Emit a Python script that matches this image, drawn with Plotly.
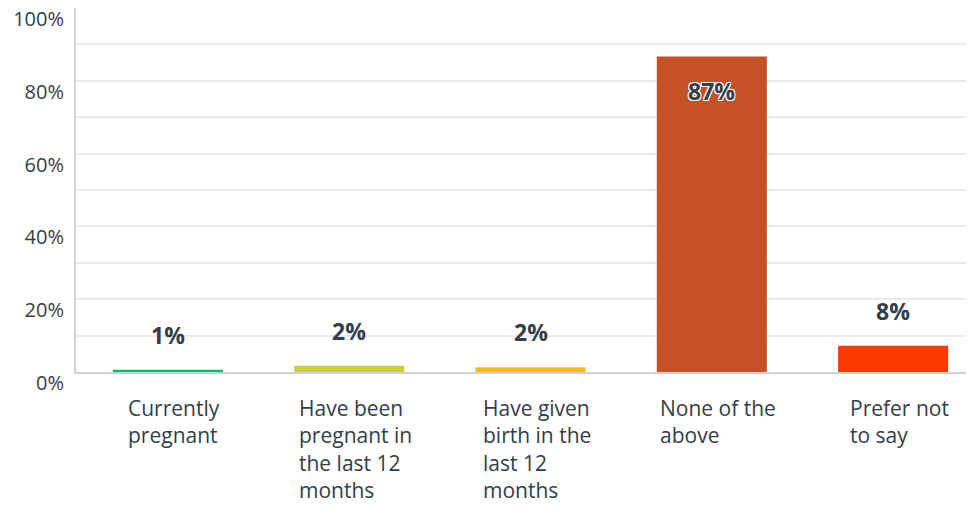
import plotly.graph_objects as go

categories = ["Currently pregnant", "Have been pregnant in the last 12 months",
              "Have given birth in the last 12 months", "None of the above", "Prefer not to say"]
category_lines = ["Currently<br>pregnant", "Have been<br>pregnant in<br>the last 12<br>months",
                  "Have given<br>birth in the<br>last 12<br>months", "None of the<br>above", "Prefer not<br>to say"]
values = [0.6, 1.7, 1.3, 86.7, 7.2]
labels = ["1%", "2%", "2%", "87%", "8%"]
colors = ["#00bf6f", "#cbd32e", "#f9be00", "#c65127", "#ff3a00"]
y_ticks = [0, 20, 40, 60, 80, 100]
y_tick_text = ["0%", "20%", "40%", "60%", "80%", "100%"]

FONT = "Open Sans"
TXT = "#333e48"

fig = go.Figure(go.Bar(x=categories, y=values, width=0.607,
                       marker=dict(color=colors, line=dict(width=0)), hoverinfo="skip"))

for c, v, t in zip(categories, values, labels):
    inside = v > 50
    fig.add_annotation(x=c, y=v, xref="x", yref="y", text="<b>" + t + "</b>", showarrow=False,
                       yanchor="middle", yshift=-35 if inside else 35,
                       font=dict(family=FONT, size=23, color=TXT,
                                 shadow="-1px -1px 0 #fff, 1px -1px 0 #fff, -1px 1px 0 #fff, 1px 1px 0 #fff" if inside else "none"))

for c, t in zip(categories, category_lines):
    fig.add_annotation(x=c, y=0, xref="x", yref="paper", text=t, showarrow=False,
                       xanchor="center", yanchor="top", yshift=-20, xshift=6, align="left",
                       font=dict(family=FONT, size=21, color=TXT))

fig.update_layout(
    width=966, height=502,
    margin=dict(l=68, r=0, t=0, b=138, autoexpand=False),
    paper_bgcolor="white", plot_bgcolor="white",
    showlegend=False,
    font=dict(family=FONT, size=20, color=TXT),
    xaxis=dict(showticklabels=False, showgrid=False, zeroline=False, showline=True,
               linecolor="#d0d0d0", linewidth=2, ticks="", automargin=False,
               range=[-0.507, 4.446]),
    yaxis=dict(range=[0, 100], tickvals=y_ticks, ticktext=y_tick_text, showgrid=True,
               gridcolor="#ebebeb", gridwidth=2, zeroline=False, showline=True,
               linecolor="#d0d0d0", linewidth=2, ticks="", ticklabelshift=11,
               ticklabelstandoff=6, automargin=False, ticklabeloverflow="allow",
               minor=dict(tickvals=[10, 30, 50, 70, 90], showgrid=True, gridcolor="#ebebeb", gridwidth=2),
               tickfont=dict(family=FONT, size=20, color=TXT)),
)

fig.write_html("out.html")
